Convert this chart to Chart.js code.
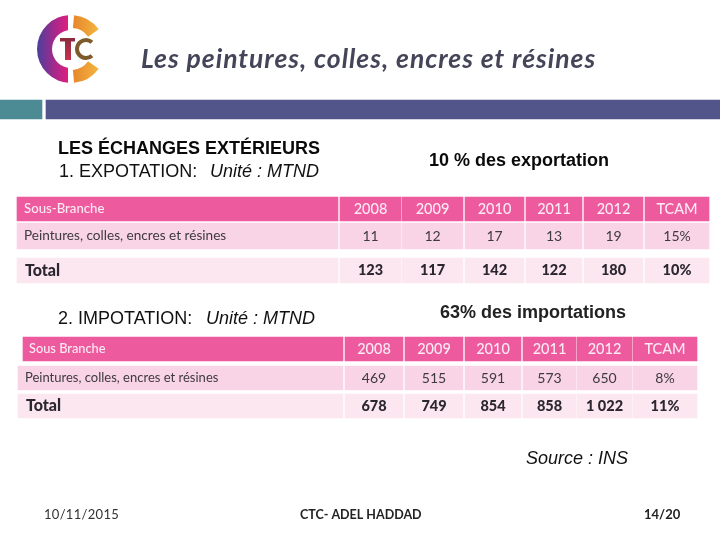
<!DOCTYPE html>
<html>
<head>
<meta charset="utf-8">
<title>Les peintures, colles, encres et résines</title>
<script src="https://cdn.jsdelivr.net/npm/chart.js@4"></script>
<style>
html, body { margin: 0; padding: 0; background: #fff; }
canvas { display: block; }
</style>
</head>
<body>
<canvas id="slide" width="720" height="540"></canvas>
<script>
const colonnes = ['2008', '2009', '2010', '2011', '2012', 'TCAM'];
const expPeintures = [11, 12, 17, 13, 19];
const expPeinturesTcam = '15%';
const expTotal = [123, 117, 142, 122, 180];
const expTotalTcam = '10%';
const impPeintures = [469, 515, 591, 573, 650];
const impPeinturesTcam = '8%';
const impTotal = [678, 749, 854, 858, 1022];
const impTotalTcam = '11%';

// mise en page des cellules (en pixels de la diapo)
const bordsExp = [[17, 338], [340, 401], [402, 463], [465, 524], [526, 582], [584, 643], [645, 709]];
const bordsImp = [[18, 343], [345, 403], [405, 463], [465, 521], [523, 576], [577, 632], [633, 697]];
const ROSE_FORT = '#ee5a9e', ROSE_MOYEN = '#f9d3e6', ROSE_PALE = '#fce6f0';

function fmt(n) {
	return n >= 1000 ? String(n).replace(/(\d)(\d{3})$/, '$1 $2') : String(n);
}

function ligne(bords, haut, bas, couleur, textes, style) {
	return {
		data: bords.map(b => ({ x: b, y: (haut + bas) / 2 })),
		backgroundColor: couleur,
		barThickness: bas - haut,
		grouped: false,
		textes: textes,
		style: style
	};
}

function ligneTete(bords, haut, bas, libelle, xTexte, fontLibelle) {
	return ligne(bords, haut, bas, ROSE_FORT, [libelle].concat(colonnes),
		{ font: '500 14.5px Lato', fontLibelle: fontLibelle, color: '#fdeaf3', xTexte: xTexte });
}
function lignePeint(bords, haut, bas, valeurs, tcam, xTexte, fontLibelle) {
	return ligne(bords, haut, bas, ROSE_MOYEN, ['Peintures, colles, encres et résines'].concat(valeurs.map(fmt), tcam),
		{ font: '400 14px Lato', fontLibelle: fontLibelle, color: '#3d3a40', xTexte: xTexte });
}
function ligneTotal(bords, haut, bas, valeurs, tcam, xTexte) {
	return ligne(bords, haut, bas, ROSE_PALE, ['Total'].concat(valeurs.map(fmt), tcam),
		{ font: '900 14.5px Lato', fontLibelle: '900 16px Lato', color: '#2b2730', xTexte: xTexte });
}

const enTeteImp = ligneTete(bordsImp, 337, 361, 'Sous Branche', 29, '500 12.8px Lato');
enTeteImp.data[0].x = [23, 343];

const datasets = [
	ligne([[0, 42], [46, 720]], 100, 119, ['#4c8a94', '#52558a'], null, null),
	ligneTete(bordsExp, 197, 221, 'Sous-Branche', 24, '500 13.2px Lato'),
	lignePeint(bordsExp, 223, 249, expPeintures, expPeinturesTcam, 24, '400 13.6px Lato'),
	ligneTotal(bordsExp, 258, 283, expTotal, expTotalTcam, 25),
	enTeteImp,
	lignePeint(bordsImp, 366, 390, impPeintures, impPeinturesTcam, 25, '400 13px Lato'),
	ligneTotal(bordsImp, 394, 418, impTotal, impTotalTcam, 26)
];

// textes libres de la diapo
const textesLibres = [
	{ t: 'Les peintures, colles, encres et résines', x: 141, y: 59, font: 'italic 700 26.5px Lato', color: '#45455a', sp: '1px' },
	{ t: 'LES ÉCHANGES EXTÉRIEURS', x: 58, y: 149, font: 'bold 18px "Liberation Sans"', color: '#0a0a0a' },
	{ t: '1. EXPOTATION:', x: 59, y: 172, font: '18px "Liberation Sans"', color: '#111' },
	{ t: 'Unité : MTND', x: 210, y: 172, font: 'italic 18px "Liberation Sans"', color: '#111' },
	{ t: '10 % des exportation', x: 429, y: 161, font: 'bold 18px "Liberation Sans"', color: '#0a0a0a' },
	{ t: '2. IMPOTATION:', x: 58, y: 319, font: '18px "Liberation Sans"', color: '#111' },
	{ t: 'Unité : MTND', x: 206, y: 319, font: 'italic 18px "Liberation Sans"', color: '#111' },
	{ t: '63% des importations', x: 440, y: 313, font: 'bold 18px "Liberation Sans"', color: '#222' },
	{ t: 'Source : INS', x: 526, y: 459, font: 'italic 18px "Liberation Sans"', color: '#111' },
	{ t: '10/11/2015', x: 44, y: 515, font: '13px Lato', color: '#333', sp: '0.3px' },
	{ t: 'CTC- ADEL HADDAD', x: 300, y: 515, font: 'bold 12.5px Lato', color: '#222' },
	{ t: '14/20', x: 644, y: 515, font: 'bold 13px Lato', color: '#222' }
];

// logo CTC
function dessineLogo(ctx) {
	const cx = 71, cy = 49, rExt = 34, rInt = 19;
	ctx.save();
	const gauche = ctx.createLinearGradient(37, 0, 70, 0);
	gauche.addColorStop(0, '#4a3f9c');
	gauche.addColorStop(0.5, '#a02a8c');
	gauche.addColorStop(1, '#e91c7d');
	ctx.fillStyle = gauche;
	ctx.beginPath();
	ctx.rect(30, 10, 38, 80);
	ctx.clip();
	ctx.beginPath();
	ctx.arc(cx, cy, rExt, 0, Math.PI * 2);
	ctx.arc(cx, cy, rInt, 0, Math.PI * 2, true);
	ctx.fill();
	ctx.restore();

	const droite = ctx.createLinearGradient(75, 0, 100, 0);
	droite.addColorStop(0, '#e88a2e');
	droite.addColorStop(1, '#f4b83f');
	ctx.fillStyle = droite;
	[[-Math.PI / 2 + 0.09, -0.62], [0.62, Math.PI / 2 - 0.09]].forEach(a => {
		ctx.beginPath();
		ctx.arc(cx, cy, rExt, a[0], a[1]);
		ctx.arc(cx, cy, rInt + 2, a[1], a[0], true);
		ctx.closePath();
		ctx.fill();
	});

	const rouge = ctx.createLinearGradient(0, 38, 0, 61);
	rouge.addColorStop(0, '#8a2b3e');
	rouge.addColorStop(1, '#c9324f');
	ctx.fillStyle = rouge;
	ctx.fillRect(60, 38, 15, 3.5);
	ctx.fillRect(65, 41, 6, 19);

	ctx.strokeStyle = '#7d5a2c';
	ctx.lineWidth = 4;
	ctx.beginPath();
	ctx.arc(86, 49, 9, 0.85, Math.PI * 2 - 0.85, false);
	ctx.stroke();
}

const slidePlugin = {
	id: 'slide',
	beforeDatasetsDraw(chart) {
		dessineLogo(chart.ctx);
	},
	afterDatasetsDraw(chart) {
		const ctx = chart.ctx;
		ctx.save();
		ctx.textBaseline = 'middle';
		chart.data.datasets.forEach((ds, i) => {
			if (!ds.textes) return;
			chart.getDatasetMeta(i).data.forEach((bar, j) => {
				ctx.fillStyle = ds.style.color;
				if (j === 0) {
					ctx.font = ds.style.fontLibelle;
					ctx.textAlign = 'left';
					ctx.fillText(ds.textes[j], ds.style.xTexte, bar.y);
				} else {
					ctx.font = ds.style.font;
					ctx.textAlign = 'center';
					ctx.fillText(ds.textes[j], (bar.x + bar.base) / 2, bar.y);
				}
			});
		});
		ctx.textAlign = 'left';
		textesLibres.forEach(l => {
			ctx.font = l.font;
			ctx.fillStyle = l.color;
			ctx.letterSpacing = l.sp || '0px';
			ctx.fillText(l.t, l.x, l.y);
		});
		ctx.restore();
	}
};

new Chart(document.getElementById('slide').getContext('2d'), {
	type: 'bar',
	data: { datasets: datasets },
	options: {
		indexAxis: 'y',
		responsive: false,
		animation: false,
		layout: { padding: 0 },
		plugins: { legend: { display: false }, tooltip: { enabled: false }, title: { display: false } },
		scales: {
			x: { type: 'linear', min: 0, max: 720, display: false, offset: false },
			y: { type: 'linear', min: 0, max: 540, reverse: true, display: false, offset: false }
		}
	},
	plugins: [slidePlugin]
});
</script>
</body>
</html>
